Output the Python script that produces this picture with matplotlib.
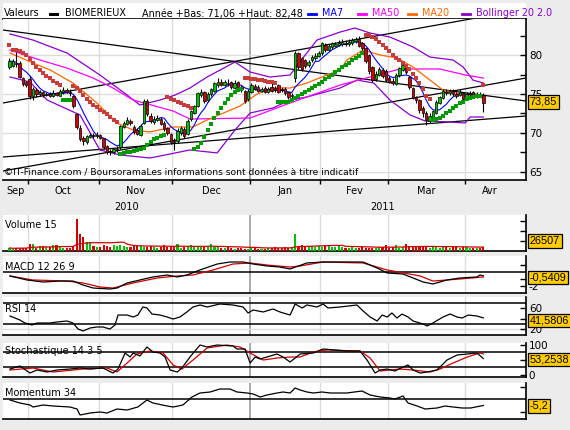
import matplotlib
matplotlib.use("Agg")
import matplotlib.pyplot as plt
import numpy as np
import pandas as pd
from matplotlib.patches import Rectangle
from matplotlib.lines import Line2D
from matplotlib.transforms import blended_transform_factory

# ---------------- data ----------------
opens = [78.4,78.6,79.0,79.0,77.0,76.5,76.9,74.7,75.5,75.0,
         75.2,74.9,75.0,74.8,75.1,74.8,75.2,75.5,75.3,74.8,
         72.4,70.7,69.3,68.9,69.5,69.7,69.6,69.7,69.3,68.3,
         67.7,67.5,67.8,68.2,70.8,71.2,71.5,70.8,70.4,69.8,
         71.3,74.1,72.2,71.4,71.7,71.8,71.3,70.6,69.9,69.0,
         69.0,70.0,70.5,69.9,71.8,72.6,73.5,74.9,75.2,74.2,
         75.0,75.4,76.1,76.6,76.2,76.4,76.5,75.8,76.5,75.9,
         75.4,74.3,75.3,76.0,75.9,75.4,75.8,75.3,75.9,75.8,
         76.1,75.7,75.7,75.2,74.7,77.0,80.2,79.6,79.3,78.7,
         79.3,79.6,79.9,80.2,81.3,80.7,81.0,81.2,81.3,81.4,
         81.6,81.4,81.5,81.8,82.0,81.5,80.9,80.0,78.5,76.9,
         77.5,78.1,78.0,77.0,76.7,76.3,77.4,78.1,78.6,77.2,
         75.8,74.6,74.2,73.2,72.6,71.6,71.9,72.6,73.9,74.5,
         75.2,75.1,75.4,75.0,74.9,75.1,74.4,75.0,75.2,74.7,
         75.0,74.9]
closes = [79.2,79.2,78.8,77.2,76.3,76.2,74.7,75.7,75.0,75.2,
          74.9,75.0,74.8,75.1,74.9,75.4,75.5,75.3,75.1,73.4,
          70.8,69.2,69.0,69.6,69.8,69.6,69.8,69.4,68.2,67.6,
          67.5,67.9,68.0,70.9,71.3,71.7,71.3,70.1,69.9,70.9,
          74.1,72.4,71.5,71.8,71.9,71.2,70.5,70.0,68.9,68.9,
          70.3,70.6,69.6,71.6,72.8,73.4,75.1,75.2,74.1,75.0,
          75.6,76.4,76.6,76.2,76.5,76.3,75.9,76.4,75.8,75.6,
          74.1,75.4,76.1,75.7,75.4,75.7,75.3,75.6,75.4,75.5,
          75.3,75.5,75.1,74.6,74.9,80.3,78.5,78.2,78.6,79.1,
          79.8,79.9,80.2,81.5,80.6,81.2,81.5,81.4,81.6,81.7,
          81.4,81.7,81.9,82.0,81.2,80.9,79.2,77.9,76.8,77.6,
          78.2,77.3,76.8,76.6,76.4,77.5,78.3,78.7,77.8,75.9,
          74.5,74.2,72.9,72.6,71.7,72.2,72.8,74.0,74.6,75.4,
          75.1,75.4,75.0,74.7,75.2,74.3,75.0,75.1,74.7,75.0,
          74.9,73.85]
highs = [79.6,79.5,80.4,79.2,77.2,76.7,77.3,75.9,75.8,75.5,
         75.4,75.3,75.2,75.5,75.3,75.6,75.9,75.8,75.6,74.9,
         72.6,71.0,69.6,69.8,70.0,70.0,70.1,69.9,69.4,68.4,
         68.0,68.1,68.3,71.0,71.6,72.0,71.8,71.0,70.7,71.1,
         74.3,74.3,72.5,72.2,72.3,72.0,71.5,70.8,70.0,69.4,
         70.6,70.9,70.8,71.8,73.0,73.6,75.3,75.6,75.4,75.3,
         75.8,76.6,77.0,76.9,76.8,76.9,76.7,76.8,76.7,76.1,
         75.5,75.6,76.4,76.3,76.1,75.9,76.0,75.9,76.4,76.0,
         76.3,75.9,75.9,75.3,75.1,80.5,80.4,79.8,79.5,79.4,
         80.0,80.2,80.5,81.7,81.5,81.4,81.7,81.7,81.9,82.0,
         81.9,82.0,82.2,82.3,82.48,81.7,81.0,80.1,78.6,77.9,
         78.4,78.3,78.2,77.3,77.0,77.7,78.5,79.0,78.8,77.3,
         75.9,74.8,74.3,73.4,72.8,72.5,73.0,74.2,74.8,75.7,
         75.7,75.6,75.7,75.2,75.6,75.3,75.2,75.4,75.4,75.3,
         75.3,75.1]
lows = [78.2,78.4,78.5,77.0,76.0,75.9,74.3,74.2,74.6,74.7,
        74.6,74.7,74.6,74.6,74.7,74.7,75.0,75.1,74.8,73.2,
        70.5,69.0,68.5,68.6,69.3,69.4,69.4,69.2,67.9,67.3,
        67.2,67.3,67.6,68.0,70.6,71.0,71.0,69.9,69.7,69.6,
        71.1,72.2,71.3,71.2,71.5,71.0,70.3,69.8,68.6,67.8,
        68.7,69.8,69.4,69.7,71.5,72.4,73.3,74.6,73.9,74.0,
        74.8,75.2,75.9,76.0,76.0,76.0,75.7,75.6,75.6,75.3,
        73.9,74.1,75.1,75.5,75.2,75.2,75.1,75.1,75.2,75.3,
        75.1,75.3,74.9,74.4,74.5,76.6,78.2,77.9,78.3,78.5,
        79.1,79.4,79.7,80.0,80.4,80.5,80.8,81.0,81.1,81.2,
        81.2,81.2,81.3,81.6,81.0,80.7,79.0,77.6,76.6,76.7,
        77.3,77.0,76.6,76.4,76.2,76.1,77.2,77.9,77.6,75.7,
        74.3,73.9,72.6,72.0,71.06,71.3,71.7,72.4,73.7,74.3,
        74.9,74.9,74.8,74.5,74.7,74.1,74.2,74.8,74.5,74.5,
        74.7,72.7]
volumes_k = [18,15,17,20,18,16,42,42,18,30,
             30,24,27,34,36,30,18,17,20,30,
             190,100,84,54,54,30,24,27,36,30,
             24,36,33,36,30,24,27,33,36,33,
             24,24,30,24,21,27,36,27,24,27,
             42,21,24,27,36,24,30,24,24,27,
             40,24,24,21,21,24,18,15,21,18,
             15,15,18,24,15,15,15,18,21,24,
             18,21,24,21,24,105,30,36,24,27,
             30,27,30,27,33,30,27,24,30,27,
             21,21,24,18,21,24,18,21,18,21,
             27,24,36,21,24,36,21,27,42,24,
             27,30,27,24,24,21,30,24,21,24,
             27,21,24,30,21,24,27,21,21,18,
             18,26.5]
sar = [81.3,80.7,80.6,80.5,80.3,80.0,79.5,79.0,78.5,78.1,
       77.7,77.3,77.0,76.7,76.4,76.2,74.2,74.2,74.2,76.0,
       75.8,75.4,74.9,74.4,74.0,73.6,73.3,73.0,72.7,72.4,
       72.0,71.7,71.4,67.3,67.4,67.5,67.6,67.7,67.8,67.9,
       68.1,68.5,68.9,69.2,69.4,69.6,69.8,74.6,74.4,74.2,
       74.0,73.8,73.6,73.4,73.2,67.9,68.2,68.7,69.5,70.4,
       71.1,71.9,72.6,73.2,73.8,74.4,74.9,75.3,75.5,75.6,
       77.0,77.0,76.95,76.9,76.85,76.8,76.7,76.6,76.5,76.45,
       74.0,74.0,74.0,74.0,74.2,74.5,74.8,75.0,75.3,75.5,
       75.8,76.0,76.3,76.6,76.9,77.2,77.5,77.8,78.1,78.4,
       78.7,79.0,79.3,79.6,79.9,80.2,82.6,82.6,82.3,82.0,
       81.7,81.3,80.9,80.5,80.0,79.6,79.3,79.0,78.6,78.2,
       77.6,77.0,76.4,75.6,74.8,74.4,71.7,71.8,71.9,72.2,
       72.5,72.8,73.2,73.5,73.8,74.0,74.3,74.5,74.6,74.7,
       74.8,76.2]
sar_green = ([0]*16 + [1]*3 + [0]*14 + [1]*14 + [0]*8 + [1]*15 + [0]*10 +
             [1]*26 + [0]*20 + [1]*15 + [0])

ma20_i = [0.15,7,12.1,18.9,26,32,36.8,41.8,48.7,54.6,58.8,68.6,73.7,78.4,83.5,88.5,94.5,98.4,100.4,105.2,110.3,115.3,120.1,125.1,129,133.2,141]
ma20_v = [80.26,78.97,78.08,76.41,73.85,71.28,70.38,70.13,70.77,70.77,71.67,73.46,75.0,75.77,75.77,76.41,77.44,78.08,79.36,80.64,80.0,79.62,78.46,76.79,75.51,75.13,74.49]
ma50_i = [0.15,9.1,17.1,24.9,30.8,36.8,48.7,53.7,71.6,83.5,98.4,116.2,128.1,135.6,141]
ma50_v = [80.64,79.36,78.33,77.05,75.77,74.23,72.82,71.79,71.92,73.85,76.15,78.21,78.21,77.44,77.05]
bbu_i = [0.15,7,17.1,26.9,35,38.8,44.8,49.3,53.7,58.8,67.1,71.6,77.5,83.5,88,91.5,98.4,102.8,107.3,113.2,120.1,125.1,132,135,137.9,141]
bbu_v = [82.7,81.92,80.26,77.44,74.87,73.59,74.23,74.87,75.77,77.18,79.1,77.82,77.18,77.44,80.0,81.92,82.95,83.46,82.82,82.31,81.03,79.74,79.36,78.46,76.79,76.41]
bbl_i = [0.15,6.1,11.2,21,26.9,32.9,41.8,53.7,61.8,67.1,71.6,78.4,83.5,88.5,98.4,103.4,108.4,113.2,119.2,123.7,131.1,135.6,137.1,141]
bbl_v = [77.18,76.54,74.23,72.31,67.82,67.18,66.79,67.82,67.44,70.38,72.56,73.21,74.23,74.62,75.77,76.79,76.41,74.23,72.31,71.54,71.41,71.28,72.05,72.05]

# trend lines (day index / price at both ends)
trend_x0 = [-1.93, -1.93, -1.93, -1.93]
trend_y0 = [83.21, 73.85, 65.13, 66.92]
trend_x1 = [153.7, 153.7, 153.7, 153.7]
trend_y1 = [74.10, 85.9, 77.05, 72.18]

macd_i = [0.15,5.2,10,15,18.9,21.9,24.9,29.9,32,35,38.8,42.7,46.9,49.9,52.8,56.7,61.8,65.6,69.5,72.5,76.6,80.5,83.5,88.5,93.3,105.2,109.4,112.4,117.1,123.1,126,130.2,134,139.1,140,141]
macd_v = [-0.57,-1.14,-1.43,-1.29,-1.29,-1.86,-2.29,-2.43,-2.29,-1.57,-1.14,-0.71,-0.43,-0.71,-0.43,0.29,1.14,1.43,1.43,1.14,0.86,0.71,0.43,1.29,1.43,1.43,0.57,-0.14,-0.29,-1.43,-1.71,-1.14,-0.86,-0.71,-0.43,-0.54]
sig_i = [0.15,7,17.1,21.9,26.9,30.8,36.8,43.9,49.9,54.6,60.6,66.5,71.6,76.6,83.5,86.5,93.3,105.2,112.4,122.2,126,134,141]
sig_v = [-0.57,-1.14,-1.29,-1.57,-2.14,-2.29,-1.57,-0.86,-0.57,-0.43,0.29,1.14,1.29,1.0,0.71,0.86,1.43,1.29,0.29,-0.57,-1.29,-1.0,-0.71]

rsi_i = [0.15,3.1,4.6,6.7,8.2,12.1,14.1,17.1,18.9,20.4,21.9,24,26,27.8,29.9,31.4,32.3,35,36.8,38.2,39.7,40.9,42.4,44.8,46.9,48.7,50.7,52.8,54.6,56.7,58.8,62.6,66.5,69.5,71,72.5,75.5,78.4,80.5,83.5,85,87.1,88.5,91.5,93.3,94.8,98.4,103.4,104.9,107.3,109.4,110.9,112.4,113.8,115.3,116.8,118.6,120.1,123.1,124.3,126,129,131.1,133.2,134.7,136.5,139.1,141]
rsi_v = [45.2,37.6,31.9,28.1,31.9,31.9,33.8,35.7,31.9,20.5,16.7,22.4,24.3,24.3,20.5,28.1,47.1,47.1,43.3,47.1,62.4,60.5,49.0,47.1,43.3,39.5,43.3,52.9,62.4,66.2,62.4,68.1,66.2,62.4,51.0,56.7,52.9,58.6,52.9,47.1,68.1,60.5,66.2,62.4,68.1,60.5,62.4,66.2,56.7,43.3,35.7,47.1,43.3,51.0,41.4,49.0,43.3,35.7,30.0,26.2,31.9,43.3,49.0,43.3,41.4,47.1,45.2,41.6]

stk_i = [0.15,3.1,6.1,8.2,11.2,14.1,18,21,24,27.8,30.8,32.3,34.4,35.9,36.8,38.8,40.9,42.7,44.8,46.3,47.8,49.9,51.3,53.7,56.7,58.8,61.8,66.5,67.7,70.1,71.6,73.1,74.6,76.6,79.6,81.4,83.5,86.5,90.4,93.3,100.4,104.3,106.4,108.8,110.3,112.4,114.7,117.1,118.6,120.1,122.2,124.3,127.2,130.2,133.2,136.2,139.1,141]
stk_v = [18.3,28.3,5,15,8.3,15,18.3,21.7,18.3,21.7,5,18.3,71.7,58.3,71.7,61.7,91.7,75,71.7,58.3,15,8.3,21.7,58.3,98.3,91.7,98.3,95,85,85,38.3,58.3,51.7,58.3,68.3,58.3,41.7,68.3,71.7,85,78.3,78.3,48.3,5,15,18.3,11.7,25,31.7,15,5,8.3,15,48.3,65,68.3,71.7,53.25]
std_i = [0.15,7,13,21.9,29,32,35,37.9,41.8,45.7,48.7,51.3,54.6,58.8,64.7,68.6,71.6,75.5,79.6,83.5,86.5,90.4,94.5,104.3,107.3,110.3,116.2,120.1,125.1,128.1,132,136.2,140,141]
std_v = [15,21.7,8.3,18.3,21.7,8.3,38.3,68.3,78.3,71.7,31.7,18.3,48.3,88.3,98.3,91.7,71.7,48.3,55,58.3,58.3,75,81.7,78.3,55,11.7,18.3,15,8.3,18.3,38.3,58.3,71.7,68.3]

mom_i = [0.15,3.1,6.1,7,10,13,18,20.1,21,24,26.9,29,32,35,38.2,40.9,42.7,46.9,48.7,51.6,54.3,56.7,59.7,62.6,65.6,67.7,70.7,72.5,74.6,76.6,79.6,81.4,83.5,85,86.5,88.5,90.4,93,95.4,100.4,104.9,107.3,110.3,113.2,114.7,117.1,118.6,121.3,123.7,127.2,129.6,132,134.7,137.2,141]
mom_v = [-0.8,-3.2,-4.8,-6.4,-4.8,-5.6,-6.4,-8,-12.8,-11.2,-10.4,-11.2,-8,-8.8,-6.4,-0.8,-3.2,-5.6,-6.4,-4.8,1.6,4.8,5.6,8,8,5.6,4.8,4,1.6,3.2,4.8,5.6,4.8,8.8,7.2,5.6,4.8,5.6,4.8,4.8,6.4,3.2,1.6,0.8,0,2.4,-3.2,-5.6,-8,-7.2,-5.6,-6.4,-7.2,-7.2,-5.2]

month_bounds = [5.5, 26.5, 48.5, 71.5, 92.5, 112.5, 135.5]
month_labels = ['Sep', 'Oct', 'Nov', 'Dec', 'Jan', 'Fev', 'Mar', 'Avr']
year_labels = ['2010', '2011']

# ---------------- layout ----------------
W, H = 570, 430
fig = plt.figure(figsize=(W / 100, H / 100), dpi=100)
fig.patch.set_facecolor('#ececec')
plt.rcParams['font.family'] = ['DejaVu Sans']

XL, XR = 3, 526
XMIN, XMAX, XEND = -1.93, 153.7, 150.5
YEAR_BOUND = 71.5

def px_axes(top, bottom):
    return fig.add_axes([XL / W, 1 - bottom / H, (XR - XL) / W, (bottom - top) / H])

def fx(px):
    return px / W

def fy(py):
    return 1 - py / H

GREEN = '#00c000'
RED = '#d00000'
BOX = '#ffcc00'

def base_panel(ax, ylim):
    ax.set_xlim(XMIN, XMAX)
    ax.set_ylim(*ylim)
    ax.set_facecolor('white')
    ax.spines['left'].set_visible(False)
    ax.spines['top'].set_visible(False)
    ax.spines['right'].set_linewidth(1.2)
    ax.spines['bottom'].set_linewidth(1.2)
    ax.yaxis.tick_right()
    ax.tick_params(axis='y', direction='in', length=4, width=1, labelsize=7.5, pad=2)
    ax.tick_params(axis='x', length=0, labelbottom=False)
    ax.set_xticks([])
    for b in month_bounds:
        if b == YEAR_BOUND:
            ax.axvline(b, color='#9a9a9a', lw=1.2, zorder=0.5)
        else:
            ax.axvline(b, color='#dcdcdc', lw=1, zorder=0.5)

def value_box(ax, val, text):
    ax.annotate(text, xy=(1, val), xycoords=('axes fraction', 'data'),
                xytext=(2.6, 0), textcoords='offset points', ha='left', va='center',
                fontsize=7.8, family='Liberation Sans', color='black', annotation_clip=False,
                bbox=dict(boxstyle='square,pad=0.18', fc=BOX, ec='black', lw=0.9), zorder=10)

def title(ax, text, ypx_offset):
    ax.text(2 / (XR - XL), 1 - ypx_offset, text, transform=ax.transAxes,
            fontsize=7, ha='left', va='center', zorder=9)

x = np.arange(len(closes))

# ---------- header row ----------
hdr = fig.add_axes([XL / W, 1 - 19 / H, (XR - XL) / W, 16 / H])
hdr.set_facecolor('white')
for s in hdr.spines.values():
    s.set_visible(False)
hdr.spines['bottom'].set_visible(True)
hdr.spines['bottom'].set_linewidth(1.2)
hdr.set_xticks([]); hdr.set_yticks([])

ty = fy(13.5)
fig.text(fx(4), ty, 'Valeurs', fontsize=6.9, va='center', ha='left')
fig.add_artist(Rectangle((fx(49), fy(16)), 10 / W, 3 / H, transform=fig.transFigure,
                         fc='black', ec='none'))
fig.text(fx(65), ty, 'BIOMERIEUX', fontsize=6.9, va='center', ha='left')
fig.text(fx(142), ty, 'Année +Bas: 71,06 +Haut: 82,48', fontsize=6.9, va='center', ha='left')
for x0, label, col in [(308, 'MA7', '#0000ff'), (358, 'MA50', '#ff00ff'),
                       (408, 'MA20', '#ff6600'), (462, 'Bollinger 20 2.0', '#8800cc')]:
    fig.add_artist(Line2D([fx(x0), fx(x0 + 8)], [fy(14), fy(14)], transform=fig.transFigure,
                          color=col, lw=2))
    fig.text(fx(x0 + 14), ty, label, fontsize=6.9, va='center', ha='left', color=col)

# ---------- main price panel ----------
ax = px_axes(19, 180)
base_panel(ax, (63.97, 84.62))
ax.set_yticks([65, 70, 75, 80])
ax.set_yticklabels(['65', '70', '75', '80'])
ax.set_yticks([67.5, 72.5, 77.5, 82.5], minor=True)
ax.tick_params(axis='y', which='minor', direction='in', length=4, width=1)
for v in [65, 70, 75, 80]:
    ax.axhline(v, color='#dcdcdc', lw=1, zorder=0.5)
ax.set_xticks(month_bounds)
ax.tick_params(axis='x', direction='out', length=3, width=1, labelbottom=False)

for a, b, c, d in zip(trend_x0, trend_y0, trend_x1, trend_y1):
    ax.plot([a, c], [b, d], color='black', lw=0.9, zorder=2)

ax.plot(bbu_i, bbu_v, color='#8800cc', lw=0.9, zorder=3)
ax.plot(bbl_i, bbl_v, color='#8800cc', lw=0.9, zorder=3)
ax.plot(ma50_i, ma50_v, color='#ff00ff', lw=0.9, zorder=3)
ax.plot(ma20_i, ma20_v, color='#ff6600', lw=0.9, zorder=3)
ma7 = pd.Series(closes).rolling(7, min_periods=1).mean()
ax.plot(x, ma7, color='#0000ff', lw=0.8, zorder=3)

o = np.array(opens); c = np.array(closes)
up = c >= o
ax.vlines(x, lows, highs, color='black', lw=0.8, zorder=4)
body_bot = np.minimum(o, c)
body_h = np.maximum(np.abs(c - o), 0.06)
ax.bar(x, body_h, bottom=body_bot, width=0.72,
       color=[GREEN if u else RED for u in up], edgecolor='black', linewidth=0.5, zorder=5)

sar_a = np.array(sar); g = np.array(sar_green) == 1
ax.scatter(x[g], sar_a[g], marker='s', s=6, color='#009900', linewidths=0, zorder=6)
ax.scatter(x[~g], sar_a[~g], marker='s', s=6, color='#c83c3c', linewidths=0, zorder=6)

value_box(ax, 74.0, '73,85')
ax.text(0.002, 7 / 161, '©IT-Finance.com / BoursoramaLes informations sont données à titre indicatif',
        transform=ax.transAxes, fontsize=6.6, ha='left', va='center', zorder=9)

bt = blended_transform_factory(ax.transData, ax.transAxes)
edges = [XMIN] + month_bounds + [XEND]
for k, lab in enumerate(month_labels):
    ax.text((edges[k] + edges[k + 1]) / 2, -11 / 161, lab, transform=bt, fontsize=7,
            ha='center', va='center', clip_on=False)
ax.text((XMIN + YEAR_BOUND) / 2, -27 / 161, year_labels[0], transform=bt, fontsize=7,
        ha='center', va='center', clip_on=False)
ax.text((YEAR_BOUND + XEND) / 2, -27 / 161, year_labels[1], transform=bt, fontsize=7,
        ha='center', va='center', clip_on=False)

# ---------- volume ----------
axv = px_axes(215, 251)
base_panel(axv, (0, 216))
axv.set_yticks([60, 120, 180]); axv.set_yticklabels([])
vol = np.array(volumes_k)
axv.bar(x, vol, width=0.62, color=[GREEN if u else RED for u in up], linewidth=0, zorder=3)
vma = pd.Series(volumes_k).rolling(15, min_periods=1).mean()
axv.plot(x, vma, color='#cc0000', lw=0.9, zorder=4)
title(axv, 'Volume 15', 10 / 36)
value_box(axv, 60, '26507')

# ---------- MACD ----------
axm = px_axes(256, 293)
base_panel(axm, (-3.0, 2.286))
axm.set_yticks([-2, -1, 1]); axm.set_yticklabels(['-2', '', ''])
axm.axhline(0, color='black', lw=1.1, zorder=2)
axm.plot(sig_i, sig_v, color='#cc0000', lw=0.9, zorder=3)
axm.plot(macd_i, macd_v, color='black', lw=0.9, zorder=4)
title(axm, 'MACD 12 26 9', 11 / 37)
value_box(axm, -0.78, '-0,5409')

# ---------- RSI ----------
axr = px_axes(297, 335)
base_panel(axr, (70 - 32 / 0.525, 70 + 6 / 0.525))
axr.set_yticks([20, 40, 60]); axr.set_yticklabels(['20', '', '60'])
axr.axhline(70, color='black', lw=1.1, zorder=2)
axr.axhline(30, color='black', lw=1.1, zorder=2)
axr.axhline(20, color='#dcdcdc', lw=1, zorder=0.5)
axr.plot(rsi_i, rsi_v, color='black', lw=0.9, zorder=4)
title(axr, 'RSI 14', 12 / 38)
value_box(axr, 36.7, '41,5806')

# ---------- Stochastic ----------
axs = px_axes(343, 377)
base_panel(axs, (-8.3, 105))
axs.set_yticks([0, 50, 100]); axs.set_yticklabels(['0', '', '100'])
axs.axhline(75, color='black', lw=1.1, zorder=2)
axs.axhline(25, color='black', lw=1.1, zorder=2)
axs.plot(std_i, std_v, color='#cc0000', lw=0.9, zorder=3)
axs.plot(stk_i, stk_v, color='black', lw=0.9, zorder=4)
title(axs, 'Stochastique 14 3 5', 8 / 34)
value_box(axs, 50, '53,2538')

# ---------- Momentum ----------
axo = px_axes(383, 419)
base_panel(axo, (-16, 12.8))
axo.set_yticks([-10, 10]); axo.set_yticklabels([])
axo.axhline(0, color='black', lw=1.1, zorder=2)
axo.plot(mom_i, mom_v, color='black', lw=0.9, zorder=4)
title(axo, 'Momentum 34', 10 / 36)
value_box(axo, -5.6, '-5,2')

fig.savefig('out.png', dpi=100, facecolor=fig.get_facecolor())
